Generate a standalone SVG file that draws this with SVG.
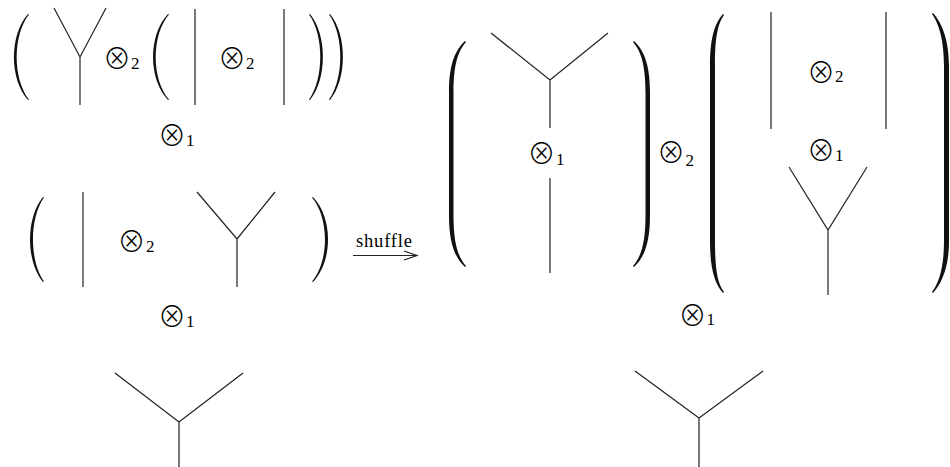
<svg xmlns="http://www.w3.org/2000/svg" width="950" height="467" viewBox="0 0 950 467">
<style>
.ln{stroke:#222;stroke-width:1.2;fill:none;stroke-linecap:butt}
.par{fill:#111;stroke:none}
.op{font-family:"Noto Sans CJK JP",sans-serif;font-size:28px;font-weight:300;fill:#000;text-anchor:middle}
.sub{font-family:"Liberation Serif",serif;font-size:17px;fill:#000;text-anchor:start}
.lbl{font-family:"Liberation Serif",serif;font-size:18.5px;fill:#000}
</style>
<rect width="950" height="467" fill="#fff"/>
<g id="left-row1">
<path class="par" d="M28,14 C9.3,35 9.3,79 28,100 L29,99.5 C12.6,79 12.6,35 29,14.5 Z"/>
<path class="ln" d="M54,8 L80,57 L106,8 M80,57 L80,105"/>
<text><tspan class="op" x="117" y="68.7">⊗</tspan><tspan class="sub" x="131" y="69">2</tspan></text>
<path class="par" d="M168,14 C148,35 148,79 168,100 L169,99.5 C151.3,79 151.3,35 169,14.5 Z"/>
<path class="ln" d="M195,9 L195,105 M284,9 L284,105"/>
<text><tspan class="op" x="232" y="68.7">⊗</tspan><tspan class="sub" x="246" y="69">2</tspan></text>
<path class="par" d="M310,14 C327.3,35 327.3,79 310,100 L309,99.5 C324.1,79 324.1,35 309,14.5 Z"/>
<path class="par" d="M330,14 C347.3,35 347.3,79 330,100 L329,99.5 C344.1,79 344.1,35 329,14.5 Z"/>
</g>
<g id="left-op1a">
<text><tspan class="op" x="172" y="146.2">⊗</tspan><tspan class="sub" x="186" y="146">1</tspan></text>
</g>
<g id="left-row2">
<path class="par" d="M43,197 C25.7,218 25.7,261 43,282 L44,281.5 C29.3,261 29.3,218 44,197.5 Z"/>
<path class="ln" d="M83,192 L83,287"/>
<text><tspan class="op" x="131.5" y="251.7">⊗</tspan><tspan class="sub" x="146" y="252">2</tspan></text>
<path class="ln" d="M197,192 L237,239 L275,192 M237,239 L237,287"/>
<path class="par" d="M313,197 C333,218 333,261 313,282 L312,281.5 C329.3,261 329.3,218 312,197.5 Z"/>
</g>
<g id="left-op1b">
<text><tspan class="op" x="172" y="326.7">⊗</tspan><tspan class="sub" x="186" y="327">1</tspan></text>
</g>
<g id="left-tree">
<path class="ln" d="M115,373 L179,422 L243,373 M179,422 L179,467"/>
</g>
<g id="connectors">
<text class="lbl" x="356" y="247" textLength="56" lengthAdjust="spacing">shuffle</text>
<path class="ln" d="M353,255.5 L417,255.5 M404,251 L417,255.5 L404,260"/>
</g>
<g id="right-group1">
<path class="par" d="M465,41 C455,50 449,65 449,92 L449,216 C449,243 455,258 465,267 L466,266 C458,257 453.5,243 453.5,216 L453.5,92 C453.5,65 458,51 466,42 Z"/>
<path class="ln" d="M491,33 L550,80 L608,33 M550,80 L550,128 M550,178 L550,273"/>
<text><tspan class="op" x="541.5" y="163.7">⊗</tspan><tspan class="sub" x="556" y="165">1</tspan></text>
<path class="par" d="M634,41 C644,50 650,65 650,92 L650,216 C650,243 644,258 634,267 L633,266 C641,257 645.5,243 645.5,216 L645.5,92 C645.5,65 641,51 633,42 Z"/>
</g>
<g id="right-op2">
<text><tspan class="op" x="671" y="162.7">⊗</tspan><tspan class="sub" x="685.5" y="166">2</tspan></text>
</g>
<g id="right-group2">
<path class="par" d="M723,14 C714,24 710,40 710,66 L710,241 C710,267 714,283 723,293 L724,292 C717,283 715,267 715,241 L715,66 C715,40 717,25 724,15 Z"/>
<path class="ln" d="M771,12 L771,129 M886,12 L886,129"/>
<text><tspan class="op" x="821" y="82.7">⊗</tspan><tspan class="sub" x="835" y="82">2</tspan></text>
<text><tspan class="op" x="821" y="160.7">⊗</tspan><tspan class="sub" x="835" y="161">1</tspan></text>
<path class="ln" d="M789,167 L828,230 L867,167 M828,230 L828,295"/>
<path class="par" d="M933,13 C942,23 949,40 949,66 L949,241 C949,267 942,283 933,293 L932,292 C939,283 944,267 944,241 L944,66 C944,40 939,24 932,14 Z"/>
</g>
<g id="right-op1">
<text><tspan class="op" x="692.5" y="325.7">⊗</tspan><tspan class="sub" x="706.5" y="325">1</tspan></text>
</g>
<g id="right-tree">
<path class="ln" d="M635,371 L699,418 L763,371 M699,418 L699,467"/>
</g>
</svg>
